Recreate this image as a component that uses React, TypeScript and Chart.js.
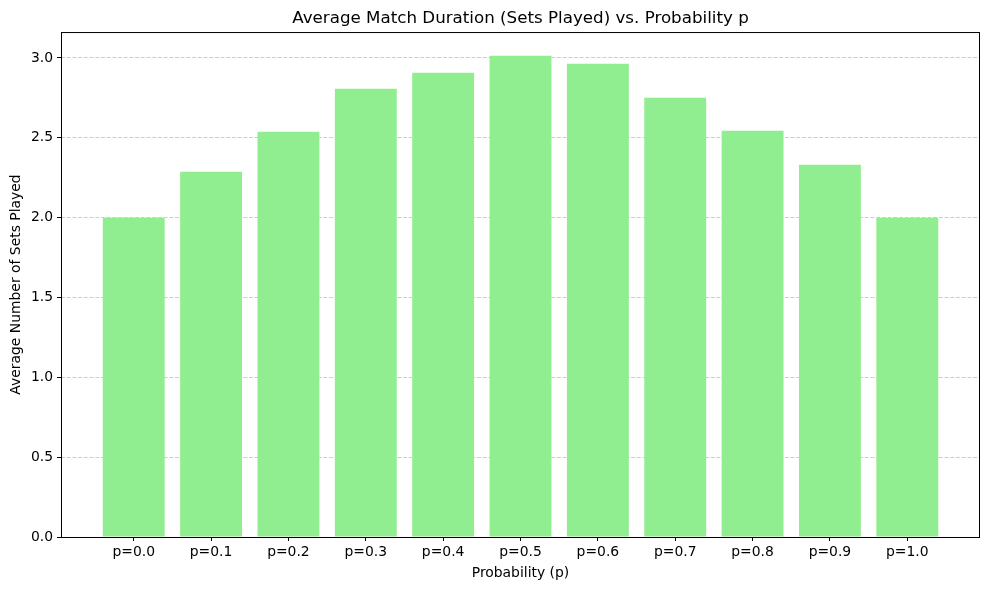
import React, { useEffect, useRef } from 'react';
import { Chart, registerables, ChartConfiguration, Plugin } from 'chart.js';

Chart.register(...registerables);

// Data
const categories = ['p=0.0', 'p=0.1', 'p=0.2', 'p=0.3', 'p=0.4', 'p=0.5', 'p=0.6', 'p=0.7', 'p=0.8', 'p=0.9', 'p=1.0'];
const avgSets = [2.0, 2.287, 2.538, 2.807, 2.907, 3.014, 2.964, 2.751, 2.544, 2.331, 2.0];
const yTicks = [0, 0.5, 1.0, 1.5, 2.0, 2.5, 3.0];

const FONT = "'DejaVu Sans', sans-serif";

// black box around the plot area, like matplotlib's spines
const framePlugin: Plugin = {
  id: 'frame',
  afterDraw(chart) {
    const { ctx, chartArea } = chart;
    ctx.save();
    ctx.strokeStyle = '#000';
    ctx.lineWidth = 1;
    ctx.strokeRect(chartArea.left + 0.5, chartArea.top + 0.5, chartArea.right - chartArea.left - 1, chartArea.bottom - chartArea.top);
    ctx.restore();
  },
};

const App: React.FC = () => {
  const canvasRef = useRef<HTMLCanvasElement>(null);
  const chartRef = useRef<Chart | null>(null);

  useEffect(() => {
    document.body.style.margin = '0';
    if (!canvasRef.current) return;
    if (chartRef.current) chartRef.current.destroy();

    const n = categories.length;
    const config: ChartConfiguration = {
      type: 'bar',
      data: {
        datasets: [
          {
            label: 'Average sets',
            data: avgSets.map((v, i) => ({ x: i, y: v })),
            backgroundColor: '#90EE90',
            borderWidth: 0,
            barPercentage: 0.8,
            categoryPercentage: 1,
          },
        ],
      },
      plugins: [framePlugin],
      options: {
        responsive: false,
        animation: false,
        layout: { padding: { left: 8, right: 9, top: 0, bottom: 8 } },
        plugins: {
          legend: { display: false },
          tooltip: { enabled: false },
          title: {
            display: true,
            fullSize: false,
            text: 'Average Match Duration (Sets Played) vs. Probability p',
            color: '#000',
            font: { family: FONT, size: 16.7, weight: 'normal' },
            padding: { top: 9, bottom: 3 },
          },
        },
        scales: {
          x: {
            type: 'linear',
            min: -0.94,
            max: n - 1 + 0.94,
            offset: false,
            afterBuildTicks: (axis: any) => {
              axis.ticks = categories.map((_, i) => ({ value: i }));
            },
            afterFit: (axis: any) => {
              axis.height = 45;
            },
            ticks: {
              color: '#000',
              font: { family: FONT, size: 13.9 },
              padding: 3,
              maxRotation: 0,
              autoSkip: false,
              callback: (v: any) => categories[Math.round(Number(v))] ?? '',
            },
            grid: {
              display: true,
              offset: false,
              drawOnChartArea: false,
              drawTicks: true,
              tickLength: 4,
              tickColor: '#000',
            },
            border: { display: false },
            title: {
              display: true,
              text: 'Probability (p)',
              color: '#000',
              font: { family: FONT, size: 13.9 },
              padding: { top: 2, bottom: 0 },
            },
          },
          y: {
            min: 0,
            max: 3.1625,
            afterBuildTicks: (axis: any) => {
              axis.ticks = yTicks.map((v) => ({ value: v }));
            },
            afterFit: (axis: any) => {
              axis.width = 53;
            },
            ticks: {
              color: '#000',
              font: { family: FONT, size: 13.9 },
              padding: 4,
              callback: (v: any) => Number(v).toFixed(1),
            },
            grid: {
              display: true,
              color: '#c0c0c0',
              lineWidth: 0.8,
              drawTicks: true,
              tickLength: 4,
              tickColor: '#000',
              tickBorderDash: [],
              tickWidth: 1,
            },
            border: { display: false, dash: [4, 1.7] },
            title: {
              display: true,
              text: 'Average Number of Sets Played',
              color: '#000',
              font: { family: FONT, size: 13.9 },
              padding: { top: 0, bottom: 2 },
            },
          },
        },
      },
    };

    chartRef.current = new Chart(canvasRef.current, config);
    return () => {
      if (chartRef.current) {
        chartRef.current.destroy();
        chartRef.current = null;
      }
    };
  }, []);

  return (
    <div style={{ width: 989, height: 590, background: '#fff' }}>
      <canvas ref={canvasRef} width={989} height={590} style={{ display: 'block' }} />
    </div>
  );
};

export default App;
